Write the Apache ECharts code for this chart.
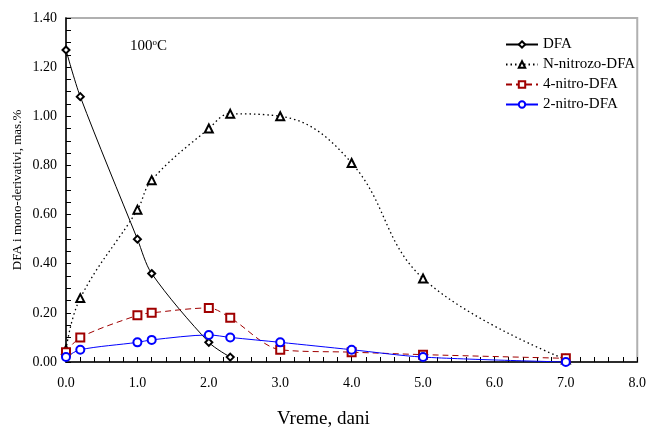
<!DOCTYPE html>
<html>
<head>
<meta charset="utf-8">
<script src="https://cdn.jsdelivr.net/npm/echarts@6/dist/echarts.min.js"></script>
<style>
  html, body { margin: 0; padding: 0; background: #fff; }
  #chart { width: 649px; height: 432px; }
</style>
</head>
<body>
<div id="chart"></div>
<script>
// --- données --- //
const timeShort = [0.0, 0.2, 1.0, 1.2, 2.0, 2.3];
const timeLong = [0.0, 0.2, 1.0, 1.2, 2.0, 2.3, 3.0, 4.0, 5.0, 7.0];

const dfa = [1.27, 1.08, 0.50, 0.36, 0.08, 0.02];
const nNitrozo = [0.05, 0.26, 0.62, 0.74, 0.95, 1.01, 1.00, 0.81, 0.34, 0.01];
const nitro4 = [0.04, 0.10, 0.19, 0.20, 0.22, 0.18, 0.05, 0.04, 0.03, 0.015];
const nitro2 = [0.02, 0.05, 0.08, 0.09, 0.11, 0.10, 0.08, 0.05, 0.02, 0.00];

const seriesNames = ['DFA', 'N-nitrozo-DFA', '4-nitro-DFA', '2-nitro-DFA'];

const font = '"Liberation Serif", "Times New Roman", serif';

function pairs(xs, ys) {
  return xs.map((x, i) => [x, ys[i]]);
}

const chart = echarts.init(document.getElementById('chart'));

let option = {
  animation: false,
  backgroundColor: '#fff',
  grid: {
    left: 66, right: 10, top: 18, bottom: 70,
    show: true,
    borderColor: '#b0b0b0',
    borderWidth: 2
  },
  legend: {
    orient: 'vertical',
    left: 500,
    top: 32,
    itemWidth: 32,
    itemHeight: 8,
    itemGap: 5,
    data: seriesNames,
    textStyle: { fontFamily: font, fontSize: 15, color: '#000' }
  },
  xAxis: {
    type: 'value',
    min: 0, max: 8, interval: 1,
    axisLine: { show: true, onZero: false, lineStyle: { color: '#000', width: 1.5 } },
    axisTick: { show: true, inside: true, length: 5, lineStyle: { color: '#000' } },
    minorTick: { show: true, splitNumber: 5, length: 5, lineStyle: { color: '#000' } },
    splitLine: { show: false },
    axisLabel: {
      margin: 14,
      fontFamily: font, fontSize: 14, color: '#000',
      formatter: v => v.toFixed(1)
    }
  },
  yAxis: {
    type: 'value',
    min: 0, max: 1.4, interval: 0.2,
    axisLine: { show: true, onZero: false, lineStyle: { color: '#000', width: 1.5 } },
    axisTick: { show: true, inside: true, length: 5, lineStyle: { color: '#000' } },
    minorTick: { show: true, splitNumber: 4, length: 5, lineStyle: { color: '#000' } },
    splitLine: { show: false },
    axisLabel: {
      margin: 9,
      fontFamily: font, fontSize: 14, color: '#000',
      formatter: v => v.toFixed(2)
    }
  },
  graphic: [
    {
      type: 'text',
      left: 130, top: 38,
      style: {
        text: '100{s|o}C',
        fontFamily: font, fontSize: 15, fill: '#000',
        rich: { s: { fontFamily: font, fontSize: 9, verticalAlign: 'top', padding: [0, 0, 7, 0] } }
      }
    },
    {
      type: 'text',
      left: 277, top: 410,
      style: { text: 'Vreme, dani', fontFamily: font, fontSize: 19, fill: '#000' }
    },
    {
      type: 'text',
      x: 18, y: 190,
      rotation: Math.PI / 2,
      style: {
        text: 'DFA i mono-derivativi, mas.%',
        fontFamily: font, fontSize: 13, fill: '#000',
        align: 'center', verticalAlign: 'middle'
      }
    }
  ],
  series: [
    {
      name: seriesNames[0],
      type: 'line',
      smooth: 0.3,
      data: pairs(timeShort, dfa),
      symbol: 'emptyDiamond',
      symbolSize: 7,
      color: '#000',
      lineStyle: { color: '#000', width: 1 }
    },
    {
      name: seriesNames[1],
      type: 'line',
      smooth: 0.4,
      data: pairs(timeLong, nNitrozo),
      symbol: 'emptyTriangle',
      symbolSize: 8,
      color: '#000',
      lineStyle: { color: '#000', width: 1.3, type: [1.5, 3] }
    },
    {
      name: seriesNames[2],
      type: 'line',
      smooth: 0.3,
      data: pairs(timeLong, nitro4),
      symbol: 'emptyRect',
      symbolSize: 8,
      color: '#a00000',
      lineStyle: { color: '#a00000', width: 1, type: [6, 4] }
    },
    {
      name: seriesNames[3],
      type: 'line',
      smooth: 0.3,
      data: pairs(timeLong, nitro2),
      symbol: 'emptyCircle',
      symbolSize: 8,
      color: '#0000ff',
      lineStyle: { color: '#0000ff', width: 1 }
    }
  ]
};

chart.setOption(option);
</script>
</body>
</html>
